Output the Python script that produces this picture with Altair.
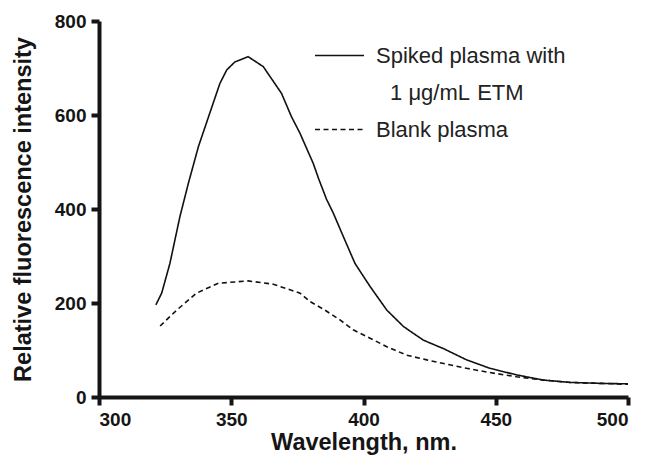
import altair as alt
import pandas as pd

# Spiked plasma with 1 µg/mL ETM (solid)
spiked_x = [321.5, 323.7, 326.8, 330.6, 333.8, 337.6, 341.4, 345.7, 348.3, 351.4,
            356.4, 362.1, 369.0, 372.8, 376.0, 381.0, 383.0, 386.0, 388.6, 392.4,
            396.8, 402.5, 408.8, 415.1, 422.6, 430.2, 439.0, 447.8, 457.9, 468.0,
            478.1, 489.4, 500.0]
spiked_y = [196, 221, 284, 384, 455, 533, 596, 667, 696, 713,
            724, 703, 646, 596, 561, 497, 465, 421, 391, 341,
            284, 235, 185, 150, 121, 103, 79, 61, 47, 36,
            31, 29, 28]

# Blank plasma (dashed)
blank_x = [323.1, 329.4, 336.9, 345.1, 356.4, 365.9, 376.0, 379.8, 385.4, 391.1,
           396.1, 402.5, 408.8, 416.3, 423.9, 431.4, 439.0, 447.8, 457.9, 468.0,
           478.1, 489.4, 500.0]
blank_y = [151, 185, 221, 242, 247, 240, 221, 203, 185, 164,
           143, 125, 107, 89, 79, 70, 61, 52, 43, 36,
           31, 29, 27]

# legend entries: the spiked label is split over two rows (second row has no symbol)
legend_entries = ["Spiked plasma with",
                  "\u200b\u00a0\u00a0\u200a1 \u03bcg/mL \u200aETM",
                  "Blank plasma"]
legend_dashes = [[1, 0], [0, 100], [5, 3.5]]
x_ticks = [300, 350, 400, 450, 500]
y_ticks = [0, 200, 400, 600, 800]

rows = []
for name, xs, ys in [(legend_entries[0], spiked_x, spiked_y), (legend_entries[2], blank_x, blank_y)]:
    for k, (a, b) in enumerate(zip(xs, ys)):
        rows.append({"wl": a, "val": b, "series": name, "order": k})
df = pd.DataFrame(rows)

AXIS_COLOR = "#151515"

chart = alt.Chart(df).mark_line(color="#111111", strokeWidth=1.6).encode(
    x=alt.X("wl:Q",
            scale=alt.Scale(domain=[300, 500], nice=False, zero=False),
            axis=alt.Axis(values=x_ticks, title="Wavelength, nm.", grid=False,
                          labelFont="Liberation Sans", labelFontWeight="bold", labelFontSize=19,
                          labelColor="#151515", labelPadding=5,
                          titleFont="Liberation Sans", titleFontWeight="bold", titleFontSize=23.5,
                          titleColor="#151515", titlePadding=1,
                          domainWidth=4, domainColor=AXIS_COLOR, tickWidth=4, tickColor=AXIS_COLOR,
                          tickSize=8)),
    y=alt.Y("val:Q",
            scale=alt.Scale(domain=[0, 800], nice=False),
            axis=alt.Axis(values=y_ticks, title="Relative fluorescence intensity", grid=False,
                          labelFont="Liberation Sans", labelFontWeight="bold", labelFontSize=19,
                          labelColor="#151515", labelPadding=5,
                          titleFont="Liberation Sans", titleFontWeight="bold", titleFontSize=23.5,
                          titleColor="#151515", titlePadding=19,
                          domainWidth=4, domainColor=AXIS_COLOR, tickWidth=4, tickColor=AXIS_COLOR,
                          tickSize=8)),
    strokeDash=alt.StrokeDash("series:N",
                              scale=alt.Scale(domain=legend_entries, range=legend_dashes),
                              legend=alt.Legend(title=None, orient="none", legendX=215, legendY=9,
                                                symbolType="stroke", symbolSize=2401,
                                                symbolStrokeWidth=1.6, symbolStrokeColor="#111111",
                                                labelFont="Liberation Sans", labelFontSize=22,
                                                labelColor="#222222", labelOffset=11,
                                                labelLimit=400, rowPadding=0)),
    order="order:Q",
).properties(
    width=529, height=376,
    autosize=alt.AutoSizeParams(type="none"),
    padding={"left": 91, "top": 13, "right": 12, "bottom": 58},
).configure_view(stroke=None)

chart.save("out.html", embed_options={"renderer": "svg", "actions": False})
